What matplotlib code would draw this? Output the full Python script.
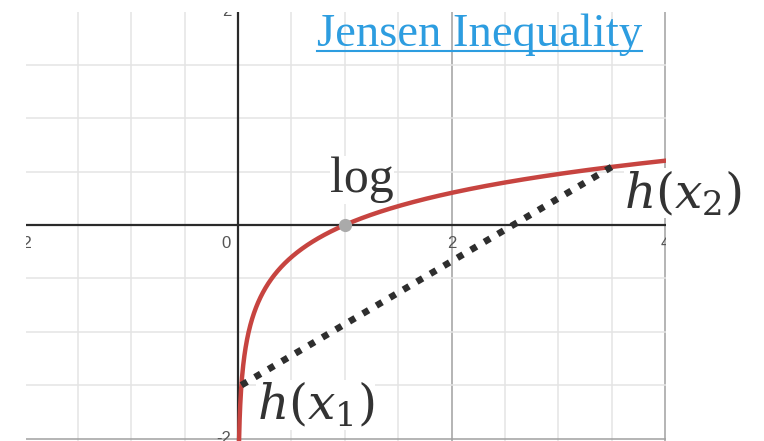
import numpy as np
import matplotlib.pyplot as plt
from matplotlib.lines import Line2D
from matplotlib.transforms import ScaledTranslation

# graph window (Desmos-style view, cropped)
x_range = (-1.986, 4.009)
y_range = (-2.023, 1.995)

x_tick_vals = [-2, 2, 4]
y_tick_vals = [2, -2]
minor_step = 0.5
major_step = 2

# chord end points on the curve
x1 = 10 ** -1.5
x2 = 3.5
marked_point = (1, 0)

curve_color = "#c74440"
text_color = "#333333"
link_color = "#2d9de0"

fig = plt.figure(figsize=(7.64, 4.41), dpi=100)
ax = fig.add_axes([26 / 764, 0, 640 / 764, 429 / 441])
ax.set_xlim(*x_range)
ax.set_ylim(*y_range)
for s in ax.spines.values():
    s.set_visible(False)
ax.set_xticks([])
ax.set_yticks([])

# grid: light every 0.5, darker every 2
for v in np.arange(-2, 4.01, minor_step):
    if v == 0:
        continue
    major = v % major_step == 0
    ax.axvline(v, color="#a0a0a0" if major else "#e4e4e4", lw=1.1, zorder=0)
for v in np.arange(-2, 2.01, minor_step):
    if v == 0:
        continue
    major = v % major_step == 0
    ax.axhline(v, color="#a0a0a0" if major else "#e4e4e4", lw=1.1, zorder=0)

ax.axhline(0, color="#2a2a2a", lw=1.6, zorder=1)
ax.axvline(0, color="#2a2a2a", lw=1.6, zorder=1)

# tick labels, clipped to the graph window
tick_kw = dict(fontsize=12, color="#555555", family="Liberation Sans", clip_on=True)
for t in x_tick_vals:
    tr = ax.transData + ScaledTranslation(0, -11 / 100, fig.dpi_scale_trans)
    ax.text(t, 0, str(t), transform=tr, ha="center", va="top", **tick_kw)
for t in y_tick_vals:
    tr = ax.transData + ScaledTranslation(-7 / 100, 0, fig.dpi_scale_trans)
    ax.text(0, t, str(t), transform=tr, ha="right", va="center", **tick_kw)
tr = ax.transData + ScaledTranslation(-7 / 100, -11 / 100, fig.dpi_scale_trans)
ax.text(0, 0, "0", transform=tr, ha="right", va="top", **tick_kw)

# h(x) = log10(x)
xs = np.linspace(0.0095, 4.2, 1500)
ax.plot(xs, np.log10(xs), color=curve_color, lw=3.2, solid_capstyle="round", zorder=3)

# chord between (x1, h(x1)) and (x2, h(x2))
ax.plot([x1, x2], [np.log10(x1), np.log10(x2)], color="#2e2e2e", lw=4.8,
        dashes=(1.0, 1.35), dash_capstyle="butt", zorder=4)

ax.plot(*marked_point, "o", color="#aaaaaa", ms=9.5, mec="none", zorder=5)

box = dict(facecolor="white", edgecolor="none", pad=0.5)
ax.text(0.862, 0.309, "log", fontsize=36, family="Liberation Serif", color=text_color,
        va="baseline", ha="left", bbox=box, zorder=6)
plt.rcParams["mathtext.fontset"] = "dejavuserif"
ax.text(3.62, 0.16, r"$h(x_2)$", fontsize=35, color=text_color,
        va="baseline", ha="left", bbox=box, zorder=2, clip_on=False)
ax.text(0.175, -1.82, r"$h(x_1)$", fontsize=35, color=text_color,
        va="baseline", ha="left", bbox=box, zorder=6)

# underlined link-style title
title = fig.text(317 / 764, 1 - 46 / 441, "Jensen Inequality", fontsize=33.6,
                 family="Liberation Serif", color=link_color, va="baseline", ha="left")
fig.canvas.draw()
bb = title.get_window_extent()
uy = 1 - 51 / 441
fig.add_artist(Line2D([bb.x0 / fig.bbox.width, bb.x1 / fig.bbox.width], [uy, uy],
                      color=link_color, lw=1.5, transform=fig.transFigure))

fig.savefig("out.png", dpi=100)
